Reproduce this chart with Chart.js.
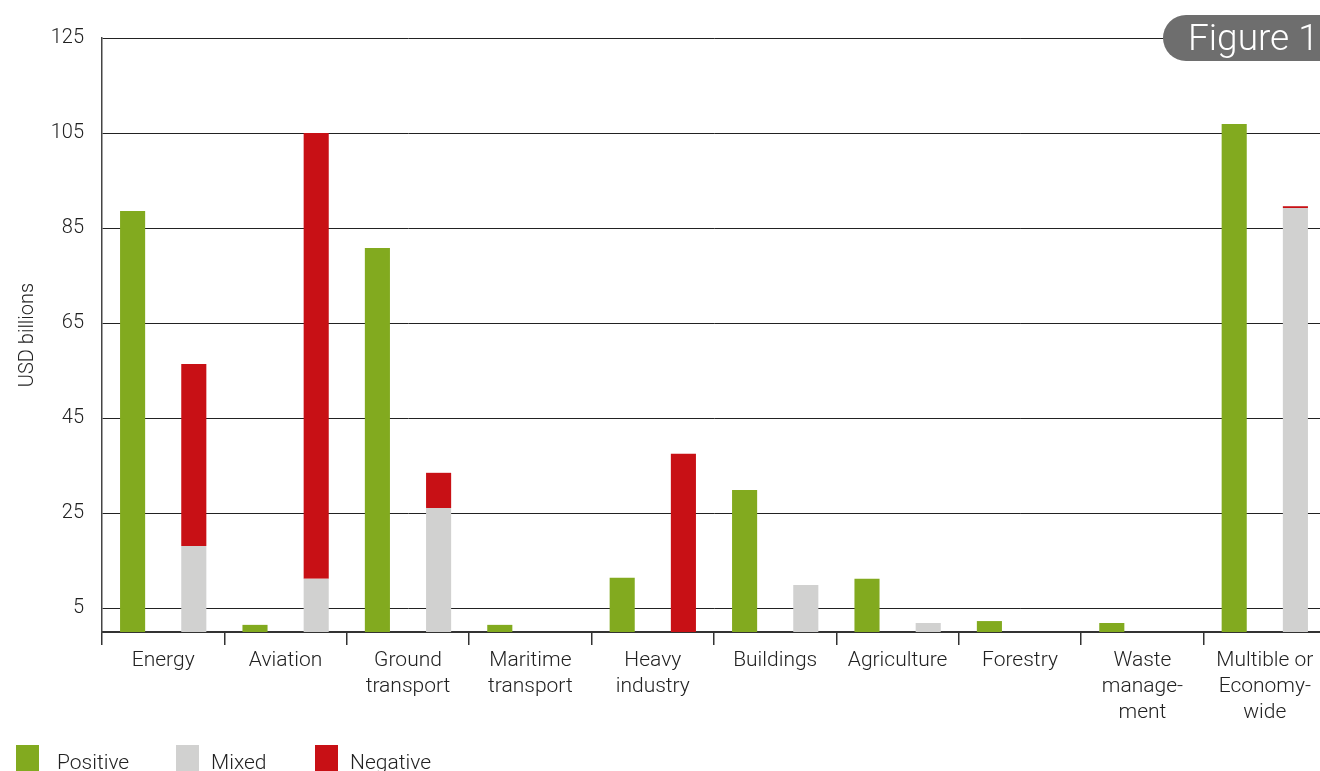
<!DOCTYPE html>
<html>
<head>
<meta charset="utf-8">
<script src="https://cdn.jsdelivr.net/npm/chart.js@4.4.1/dist/chart.umd.min.js"></script>
<style>
  html, body { margin: 0; padding: 0; background: #fff; overflow: hidden; }
  #wrap { position: relative; width: 1330px; height: 771px; }
  #figTab {
    position: absolute; left: 1163px; top: 15px; width: 170px; height: 46px;
    background: #6e6e6e; color: #fff; border-radius: 23px 0 0 23px;
    font: 300 37px Roboto, sans-serif; line-height: 46px; padding-left: 25px; box-sizing: border-box;
  }
  #legend { position: absolute; left: 0; top: 745px; width: 600px; height: 30px; font: 300 21px Roboto, sans-serif; color: #222; }
  #legend .box { position: absolute; top: 0; width: 23px; height: 30px; }
  #legend .lbl { position: absolute; top: 2px; line-height: 30px; }
</style>
</head>
<body>
<div id="wrap">
  <canvas id="myChart" width="1330" height="771"></canvas>
  <div id="figTab">Figure 1</div>
  <div id="legend"></div>
</div>
<script>
const categories = [
  'Energy', 'Aviation', ['Ground', 'transport'], ['Maritime', 'transport'], ['Heavy', 'industry'],
  'Buildings', 'Agriculture', 'Forestry', ['Waste', 'manage-', 'ment'], ['Multible or', 'Economy-', 'wide']
]
const positive = [88.6, 1.5, 80.8, 1.5, 11.4, 29.9, 11.2, 2.3, 1.9, 106.9]
const mixed    = [18.1, 11.2, 26.1, 0, 0, 9.9, 1.9, 0, 0, 89.2]
const negative = [38.3, 93.8, 7.4, 0, 37.5, 0, 0, 0, 0, 0.4]
const yTicks = [5, 25, 45, 65, 85, 105, 125]

const seriesNames = ['Positive', 'Mixed', 'Negative']
const seriesColors = ['#82aa1f', '#d1d1d0', '#c81015']
// legend box / label left edges
const legendBoxX = [16, 176, 315]
const legendLabelX = [57, 211, 350]

Chart.defaults.font.family = 'Roboto, sans-serif'
Chart.defaults.font.weight = 300
Chart.defaults.color = '#222'

var ctx = document.getElementById('myChart').getContext('2d');

var myChart = new Chart(ctx, {
  type: 'bar',
  data: {
    labels: categories,
    datasets: [
      { label: seriesNames[0], data: positive, backgroundColor: seriesColors[0], stack: 'pos' },
      { label: seriesNames[1], data: mixed, backgroundColor: seriesColors[1], stack: 'other' },
      { label: seriesNames[2], data: negative, backgroundColor: seriesColors[2], stack: 'other' }
    ]
  },
  options: {
    responsive: false,
    animation: false,
    layout: { padding: { top: 38, right: 4, left: 0, bottom: 0 } },
    datasets: { bar: { categoryPercentage: 1.0, barPercentage: 0.41 } },
    plugins: { legend: { display: false }, tooltip: { enabled: false } },
    scales: {
      x: {
        stacked: true,
        afterFit: s => { s.height = 139 },
        grid: { drawOnChartArea: false, drawTicks: true, tickLength: 13, color: '#333', lineWidth: 1.5, offset: true },
        border: { display: true, color: '#333', width: 2 },
        ticks: { font: { size: 21, lineHeight: 1.24 }, padding: 3, maxRotation: 0, autoSkip: false }
      },
      y: {
        stacked: true,
        min: 0,
        max: 125,
        afterFit: s => { s.width = 102 },
        afterBuildTicks: s => { s.ticks = yTicks.map(v => ({ value: v })) },
        grid: { drawTicks: false, color: '#222', lineWidth: 1 },
        border: { display: true, color: '#444', width: 1.5 },
        ticks: { font: { size: 20 }, padding: 18 },
        title: { display: true, text: 'USD billions', font: { size: 20 }, padding: { top: 16, bottom: 0 } }
      }
    }
  }
});

// legend below chart, built from the datasets
var legend = document.getElementById('legend')
myChart.data.datasets.forEach((ds, i) => {
  let box = document.createElement('div')
  box.className = 'box'
  box.style.left = legendBoxX[i] + 'px'
  box.style.background = ds.backgroundColor
  let lbl = document.createElement('div')
  lbl.className = 'lbl'
  lbl.style.left = legendLabelX[i] + 'px'
  lbl.innerText = ds.label
  legend.appendChild(box)
  legend.appendChild(lbl)
})
</script>
</body>
</html>
